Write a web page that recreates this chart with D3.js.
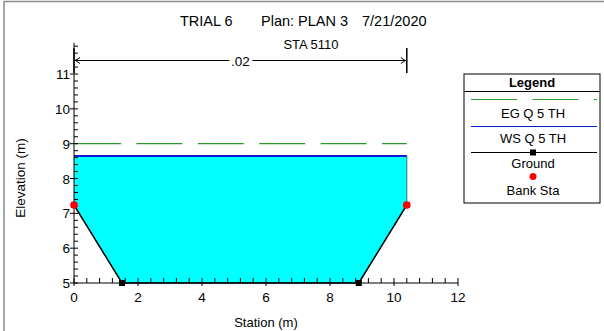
<!DOCTYPE html>
<html><head><meta charset="utf-8">
<script src="https://cdn.jsdelivr.net/npm/d3@7"></script>
<style>
html,body{margin:0;padding:0;background:#fff;}
svg{display:block;font-family:"Liberation Sans",Arial,sans-serif;}
</style></head>
<body>
<svg id="chart" width="604" height="331"></svg>
<script>
// ---- data ----
const stations = [0, 1.5, 8.9, 10.4];
const elevations = [7.24, 5.0, 5.0, 7.24];
const bankStations = [0, 10.4];
const bankElevations = [7.24, 7.24];
const wsElevation = 8.65;
const egElevation = 9.0;
const nValues = [".02"];
const nStations = [0, 10.4];
const xTicks = [0, 2, 4, 6, 8, 10, 12];
const yTicks = [5, 6, 7, 8, 9, 10, 11];
const titleParts = ["TRIAL 6", "Plan: PLAN 3", "7/21/2020"];
const subtitle = "STA 5110";
const legendItems = ["EG Q 5 TH", "WS Q 5 TH", "Ground", "Bank Sta"];

const svg = d3.select("#chart");
const x = d3.scaleLinear().domain([0, 12]).range([74, 458]);
const y = d3.scaleLinear().domain([5, 11.9]).range([283, 42.7]);

// outer frame
svg.append("line").attr("x1",4).attr("x2",4).attr("y1",1).attr("y2",331).attr("stroke","#8a8a8a").attr("stroke-width",1.5);
svg.append("line").attr("x1",4).attr("x2",604).attr("y1",1.5).attr("y2",1.5).attr("stroke","#8a8a8a").attr("stroke-width",1.5);

// titles
const tx = [180, 261, 362];
titleParts.forEach((t,i)=>{
  svg.append("text").attr("x",tx[i]).attr("y",26).attr("font-size",14.5).attr("fill","#000").text(t);
});
svg.append("text").attr("x",311).attr("y",48.5).attr("text-anchor","middle").attr("font-size",13).text(subtitle);

// water surface polygon
const wsPts = [[0, wsElevation]];
stations.forEach((s,i)=>wsPts.push([s, elevations[i]]));
wsPts.push([stations[stations.length-1], wsElevation]);
svg.append("path")
  .attr("d", d3.line().x(d=>x(d[0])).y(d=>y(d[1]))(wsPts) + "Z")
  .attr("fill","#00ffff").attr("stroke","none");
// right edge of WS
svg.append("line").attr("x1",x(10.4)).attr("x2",x(10.4)).attr("y1",y(bankElevations[1])).attr("y2",y(wsElevation))
  .attr("stroke","#2e7878").attr("stroke-width",1);
// WS line
svg.append("line").attr("x1",x(0)).attr("x2",x(10.4)).attr("y1",y(wsElevation)).attr("y2",y(wsElevation))
  .attr("stroke","#0a1ad0").attr("stroke-width",2);
// EG line dashed
svg.append("line").attr("x1",x(0)+1).attr("x2",x(10.4)).attr("y1",y(egElevation)).attr("y2",y(egElevation))
  .attr("stroke","#2a9a2a").attr("stroke-width",1.2).attr("stroke-dasharray","46,15.4");

// axes
const ax = svg.append("g").attr("stroke","#000").attr("stroke-width",1);
ax.append("line").attr("x1",x(0)).attr("x2",x(12)).attr("y1",y(5)).attr("y2",y(5));
ax.append("line").attr("x1",x(0)).attr("x2",x(0)).attr("y1",y(5)).attr("y2",y(11.9));
// x ticks
d3.range(0, 12.001, 0.4).forEach(v=>{
  const major = Math.abs(v/2 - Math.round(v/2)) < 1e-6;
  ax.append("line").attr("x1",x(v)).attr("x2",x(v)).attr("y1",y(5)+(major?3:0)).attr("y2",y(5)-5);
});
// y ticks
d3.range(5, 11.9, 0.2).forEach(v=>{
  const major = Math.abs(v - Math.round(v)) < 1e-6;
  ax.append("line").attr("x1",x(0)-(major?4:0)).attr("x2",x(0)+4).attr("y1",y(v)).attr("y2",y(v));
});
xTicks.forEach(v=>{
  svg.append("text").attr("x",x(v)).attr("y",301.5).attr("text-anchor","middle").attr("font-size",13.5).text(v);
});
yTicks.forEach(v=>{
  svg.append("text").attr("x",x(0)-4).attr("y",y(v)+5).attr("text-anchor","end").attr("font-size",13.5).text(v);
});
svg.append("text").attr("x",266).attr("y",326.5).attr("text-anchor","middle").attr("font-size",13).text("Station (m)");
svg.append("text").attr("transform","translate(25,178) rotate(-90)").attr("text-anchor","middle").attr("font-size",13.5).text("Elevation (m)");

// ground line
svg.append("path")
  .attr("d", d3.line().x((d,i)=>x(stations[i])).y((d,i)=>y(elevations[i]))(stations))
  .attr("fill","none").attr("stroke","#000").attr("stroke-width",1.5);
svg.selectAll(".gpt").data(stations).enter().append("rect")
  .attr("x",(d)=>x(d)-3).attr("y",(d,i)=>y(elevations[i])-3).attr("width",6).attr("height",6).attr("fill","#000");
svg.selectAll(".bpt").data(bankStations).enter().append("circle")
  .attr("cx",d=>x(d)).attr("cy",(d,i)=>y(bankElevations[i])).attr("r",3.8).attr("fill","#ff0000");

// n-value bracket
const nb = svg.append("g").attr("stroke","#000").attr("stroke-width",1);
nStations.forEach(s=>{
  nb.append("line").attr("x1",x(s)).attr("x2",x(s)).attr("y1",48).attr("y2",73).attr("stroke-width",1.5);
});
const nMid = (x(nStations[0])+x(nStations[1]))/2;
nb.append("line").attr("x1",x(nStations[0])+1).attr("x2",nMid-11).attr("y1",60.5).attr("y2",60.5);
nb.append("line").attr("x1",nMid+12).attr("x2",x(nStations[1])-1).attr("y1",60.5).attr("y2",60.5);
nb.append("path").attr("d",`M${x(nStations[0])+6},57.5 L${x(nStations[0])+1.5},60.5 L${x(nStations[0])+6},63.5`).attr("fill","none");
nb.append("path").attr("d",`M${x(nStations[1])-6},57.5 L${x(nStations[1])-1.5},60.5 L${x(nStations[1])-6},63.5`).attr("fill","none");
svg.append("text").attr("x",nMid).attr("y",65.5).attr("text-anchor","middle").attr("font-size",13.5).text(nValues[0]);

// legend
const lg = svg.append("g");
const L = {x0:464, x1:600, y0:74, y1:203};
lg.append("rect").attr("x",L.x0).attr("y",L.y0).attr("width",L.x1-L.x0).attr("height",L.y1-L.y0).attr("fill","#fff").attr("stroke","#000").attr("stroke-width",1);
lg.append("line").attr("x1",L.x0).attr("x2",L.x1).attr("y1",91.5).attr("y2",91.5).attr("stroke","#000");
lg.append("text").attr("x",532).attr("y",87).attr("text-anchor","middle").attr("font-size",13).attr("font-weight","bold").text("Legend");
lg.append("line").attr("x1",471).attr("x2",597).attr("y1",99.5).attr("y2",99.5).attr("stroke","#2a9a2a").attr("stroke-width",1.2).attr("stroke-dasharray","46,15.4");
lg.append("line").attr("x1",471).attr("x2",597).attr("y1",126.5).attr("y2",126.5).attr("stroke","#0a1ad0").attr("stroke-width",1.2);
lg.append("line").attr("x1",471).attr("x2",597).attr("y1",152.5).attr("y2",152.5).attr("stroke","#000").attr("stroke-width",1.2);
lg.append("rect").attr("x",530).attr("y",149.5).attr("width",6).attr("height",6).attr("fill","#000");
lg.append("circle").attr("cx",533).attr("cy",176.5).attr("r",3.5).attr("fill","#ff0000");
const ly = [117.5, 142.5, 168, 195];
legendItems.forEach((t,i)=>{
  lg.append("text").attr("x",533).attr("y",ly[i]).attr("text-anchor","middle").attr("font-size",13).text(t);
});
</script>
</body></html>
